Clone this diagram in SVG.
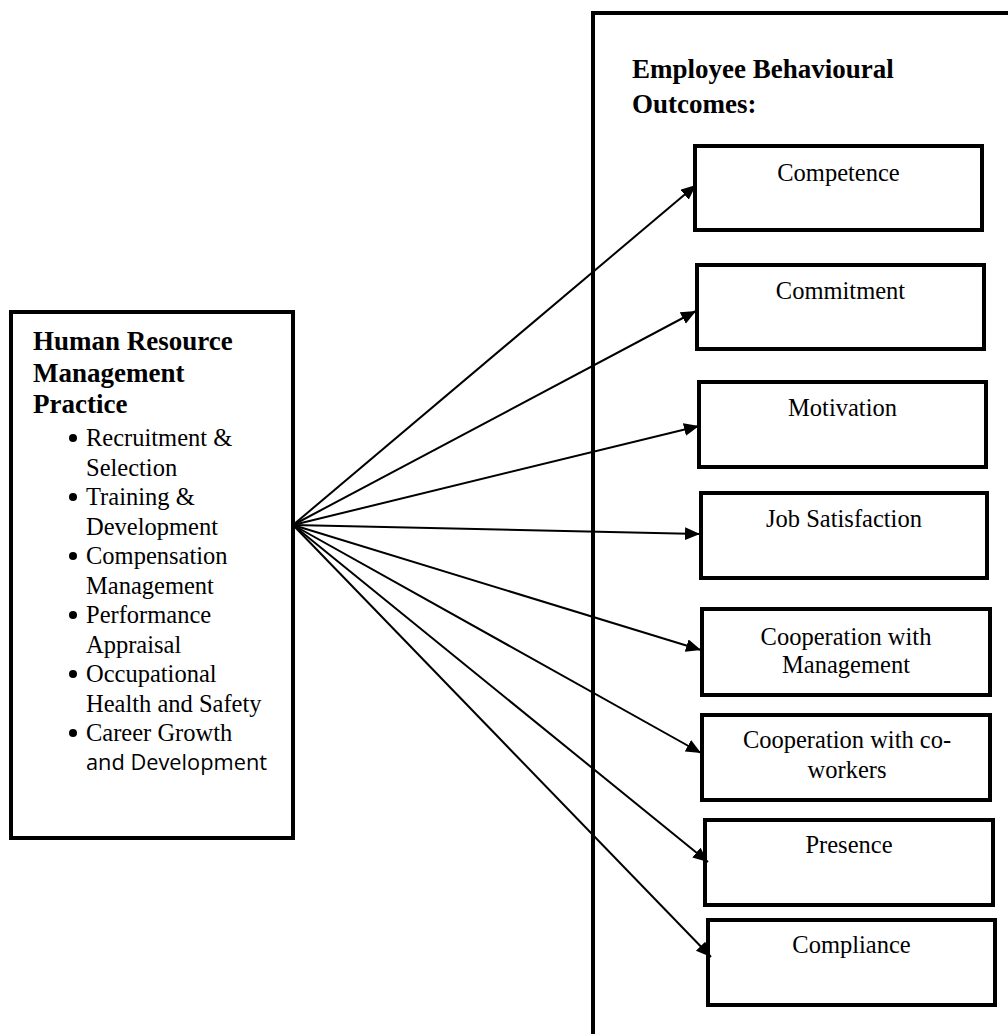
<svg xmlns="http://www.w3.org/2000/svg" width="1008" height="1034" viewBox="0 0 1008 1034">
<style>
.box{fill:#fff;stroke:#000;stroke-width:4}
.big{fill:none;stroke:#000;stroke-width:4}
.t{font-family:"Liberation Serif","Times New Roman",serif;font-size:24.5px;fill:#000}
.c{text-anchor:middle}
.b{font-family:"Liberation Serif","Times New Roman",serif;font-size:27px;font-weight:bold;fill:#000}
.s{font-family:"Open Sans","Liberation Sans",sans-serif;font-size:22px;fill:#000}
.con line{stroke:#000;stroke-width:2;marker-end:url(#ah)}
</style>
<defs>
<marker id="ah" markerUnits="userSpaceOnUse" markerWidth="16" markerHeight="14" refX="15" refY="6.5" orient="auto">
<path d="M0,0 L15,6.5 L0,13 z" fill="#000"/>
</marker>
</defs>
<rect width="1008" height="1034" fill="#fff"/>
<g id="outcomes">
<rect class="big" x="593" y="13" width="440" height="1040"/>
<text class="b" x="632" y="78">Employee Behavioural</text>
<text class="b" x="632" y="113">Outcomes:</text>
</g>
<g id="hrm">
<rect class="box" x="11" y="312" width="282" height="526"/>
<text class="b" x="33" y="350">Human Resource</text>
<text class="b" x="33" y="382">Management</text>
<text class="b" x="33" y="413">Practice</text>
<circle cx="73" cy="438" r="4"/>
<text class="t" x="86" y="446">Recruitment &amp;</text>
<text class="t" x="86" y="475.5">Selection</text>
<circle cx="73" cy="497" r="4"/>
<text class="t" x="86" y="505">Training &amp;</text>
<text class="t" x="86" y="534.5">Development</text>
<circle cx="73" cy="556" r="4"/>
<text class="t" x="86" y="564">Compensation</text>
<text class="t" x="86" y="593.5">Management</text>
<circle cx="73" cy="615" r="4"/>
<text class="t" x="86" y="623">Performance</text>
<text class="t" x="86" y="652.5">Appraisal</text>
<circle cx="73" cy="674" r="4"/>
<text class="t" x="86" y="682">Occupational</text>
<text class="t" x="86" y="711.5">Health and Safety</text>
<circle cx="73" cy="733" r="4"/>
<text class="t" x="86" y="741">Career Growth</text>
<text class="s" x="86" y="770" textLength="181" lengthAdjust="spacingAndGlyphs">and Development</text>
</g>
<g id="competence">
<rect class="box" x="695" y="146" width="287" height="84"/>
<text class="t c" x="838.5" y="181">Competence</text>
</g>
<g id="commitment">
<rect class="box" x="697" y="265" width="287" height="84"/>
<text class="t c" x="840.5" y="299">Commitment</text>
</g>
<g id="motivation">
<rect class="box" x="699" y="382" width="287" height="85"/>
<text class="t c" x="842.5" y="416">Motivation</text>
</g>
<g id="job-satisfaction">
<rect class="box" x="701" y="493" width="286" height="85"/>
<text class="t c" x="844" y="527">Job Satisfaction</text>
</g>
<g id="coop-management">
<rect class="box" x="702" y="609" width="288" height="86"/>
<text class="t c" x="846" y="645">Cooperation with</text>
<text class="t c" x="846" y="673">Management</text>
</g>
<g id="coop-coworkers">
<rect class="box" x="702" y="715" width="288" height="85"/>
<text class="t c" x="847" y="748">Cooperation with co-</text>
<text class="t c" x="847" y="778">workers</text>
</g>
<g id="presence">
<rect class="box" x="705" y="820" width="288" height="85"/>
<text class="t c" x="849" y="853">Presence</text>
</g>
<g id="compliance">
<rect class="box" x="708" y="920" width="287" height="85"/>
<text class="t c" x="851.5" y="953">Compliance</text>
</g>
<g id="connectors" class="con">
<line x1="293" y1="525" x2="696" y2="185"/>
<line x1="293" y1="525" x2="696" y2="311"/>
<line x1="293" y1="525" x2="699" y2="426"/>
<line x1="293" y1="525" x2="700" y2="534"/>
<line x1="293" y1="525" x2="701" y2="650"/>
<line x1="293" y1="525" x2="701" y2="753"/>
<line x1="293" y1="525" x2="708" y2="862"/>
<line x1="293" y1="525" x2="711" y2="957"/>
</g>
</svg>
